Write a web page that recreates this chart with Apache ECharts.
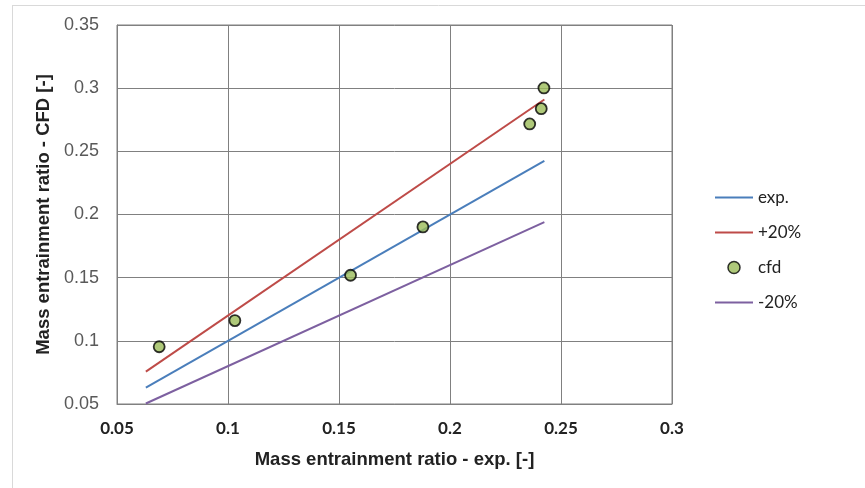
<!DOCTYPE html>
<html>
<head>
<meta charset="utf-8">
<script src="https://cdn.jsdelivr.net/npm/echarts@6/dist/echarts.min.js"></script>
<style>html,body{margin:0;padding:0;background:#fff}#c{width:865px;height:488px}</style>
</head>
<body>
<div id="c"></div>
<script>
// Data
const expX = [0.063, 0.2425];
const expY = [0.063, 0.2425];
const plusX = [0.063, 0.2425];
const plusY = [0.0756, 0.291];
const minusX = [0.063, 0.2425];
const minusY = [0.0504, 0.194];
const cfdX = [0.069, 0.1031, 0.1552, 0.1878, 0.2359, 0.2411, 0.2423];
const cfdY = [0.0953, 0.116, 0.1519, 0.1902, 0.2717, 0.2838, 0.3002];
const seriesNames = ['exp.', '+20%', 'cfd', '-20%'];

const zip = (a, b) => a.map((v, i) => [v, b[i]]);
const lineLegend = name => ({name, itemStyle: {opacity: 0, borderWidth: 0}});
const chart = echarts.init(document.getElementById('c'), null, {renderer: 'canvas'});
chart.setOption({
  animation: false,
  backgroundColor: '#fff',
  graphic: [
    {type: 'line', shape: {x1: 12, y1: 5.5, x2: 865, y2: 5.5}, style: {stroke: '#d9d9d9', lineWidth: 1}},
    {type: 'line', shape: {x1: 12.5, y1: 5, x2: 12.5, y2: 488}, style: {stroke: '#d9d9d9', lineWidth: 1}}
  ],
  grid: {left: 117, right: 193, top: 25, bottom: 84, show: true, borderColor: '#808080', borderWidth: 1},
  legend: {
    orient: 'vertical', left: 714, top: 189, padding: 0, itemGap: 18, itemWidth: 38, itemHeight: 12,
    data: [lineLegend(seriesNames[0]), lineLegend(seriesNames[1]), {name: seriesNames[2], itemStyle: {borderWidth: 1.5}}, lineLegend(seriesNames[3])],
    textStyle: {fontFamily: 'Lato', fontSize: 17, color: '#222'}
  },
  xAxis: {
    type: 'value', min: 0.05, max: 0.3, interval: 0.05,
    name: 'Mass entrainment ratio - exp. [-]', nameLocation: 'middle', nameGap: 46,
    nameTextStyle: {fontFamily: 'Liberation Sans', fontWeight: 'bold', fontSize: 18.5, color: '#222'},
    axisLine: {lineStyle: {color: '#808080'}}, axisTick: {show: false},
    splitLine: {lineStyle: {color: '#808080', width: 1}},
    axisLabel: {fontFamily: 'Lato', fontWeight: 'bold', fontSize: 17, color: '#222', margin: 16, formatter: v => String(+v.toFixed(2))}
  },
  yAxis: {
    type: 'value', min: 0.05, max: 0.35, interval: 0.05,
    name: 'Mass entrainment ratio - CFD [-]', nameLocation: 'middle', nameGap: 61,
    nameTextStyle: {fontFamily: 'Liberation Sans', fontWeight: 'bold', fontSize: 18.5, color: '#222'},
    axisLine: {lineStyle: {color: '#808080'}}, axisTick: {show: false},
    splitLine: {lineStyle: {color: '#808080', width: 1}},
    axisLabel: {fontFamily: 'Liberation Sans', fontSize: 18, color: '#595959', margin: 18, formatter: v => String(+v.toFixed(2))}
  },
  series: [
    {name: seriesNames[0], type: 'line', symbol: 'none', data: zip(expX, expY), lineStyle: {color: '#4a7ebb', width: 2}, itemStyle: {color: '#4a7ebb'}},
    {name: seriesNames[1], type: 'line', symbol: 'none', data: zip(plusX, plusY), lineStyle: {color: '#be4b48', width: 2}, itemStyle: {color: '#be4b48'}},
    {name: seriesNames[2], type: 'scatter', symbol: 'circle', symbolSize: 11, data: zip(cfdX, cfdY), itemStyle: {color: '#9bbb59', borderColor: '#000', borderWidth: 1.8}, z: 5},
    {name: seriesNames[3], type: 'line', symbol: 'none', data: zip(minusX, minusY), lineStyle: {color: '#7d60a0', width: 2}, itemStyle: {color: '#7d60a0'}}
  ]
});
</script>
</body>
</html>
